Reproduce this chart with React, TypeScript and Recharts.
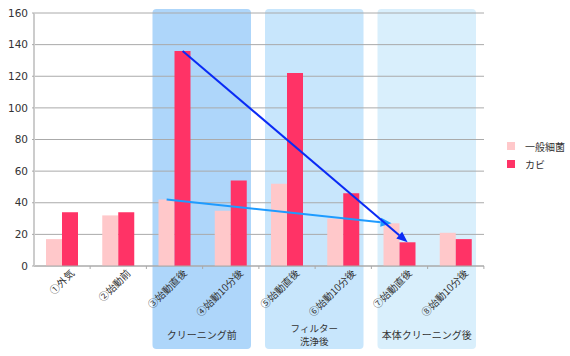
import { BarChart, Bar, XAxis, YAxis, CartesianGrid, ReferenceArea, ReferenceLine, Legend } from 'recharts'

const categories = ['①外気', '②始動前', '③始動直後', '④始動10分後', '⑤始動直後', '⑥始動10分後', '⑦始動直後', '⑧始動10分後']
const bacteria = [17, 32, 42, 35, 52, 30, 27, 21]
const mold = [34, 34, 136, 54, 122, 46, 15, 17]
const yTicks = [0, 20, 40, 60, 80, 100, 120, 140, 160]

const seriesNames = ['一般細菌', 'カビ']
const seriesColors = ['#FFC8CA', '#FF3366']

// groups behind the bars
const groupLabels = [['クリーニング前'], ['フィルター', '洗浄後'], ['本体クリーニング後']]
const groupStart = [2, 4, 6]
const groupEnd = [3, 5, 7]
const groupColors = ['#AED6FA', '#C8E6FC', '#D9EFFC']

// arrows: from / to category index
const arrowFrom = 2
const arrowTo = 6

const JP = '"Noto Sans CJK JP", "Noto Sans", sans-serif'

const data = categories.map((name, i) => ({ name, bacteria: bacteria[i], mold: mold[i] }))

function bandShape(idx: number) {
    return (props: any) => {
        const { x, y, width, height } = props
        const left = x + 6
        const w = width - 14
        const top = y - 4
        const bottom = y + height + 83
        const lines = groupLabels[idx]
        return (
            <g>
                <rect x={left} y={top} width={w} height={bottom - top} rx={4} fill={groupColors[idx]} />
                {lines.map((t, i) => (
                    <text
                        key={t}
                        x={left + w / 2}
                        y={lines.length > 1 ? bottom - 4 - (lines.length - 1 - i) * 13 : bottom - 10}
                        textAnchor="middle"
                        fontSize={lines.length > 1 ? 9.5 : 10}
                        fontFamily={JP}
                        fill="#333"
                    >
                        {t}
                    </text>
                ))}
            </g>
        )
    }
}

function arrowShape(color: string, shift: number) {
    return (props: any) => {
        const x1 = props.x1 + shift
        const x2 = props.x2 + shift
        const { y1, y2 } = props
        const a = Math.atan2(y2 - y1, x2 - x1)
        const len = 11
        const half = 4.5
        const bx = x2 - len * Math.cos(a)
        const by = y2 - len * Math.sin(a)
        const pts = [
            [x2, y2],
            [bx + half * Math.sin(a), by - half * Math.cos(a)],
            [bx - half * Math.sin(a), by + half * Math.cos(a)]
        ].map((p) => p.join(',')).join(' ')
        return (
            <g>
                <line x1={x1} y1={y1} x2={bx} y2={by} stroke={color} strokeWidth={2} />
                <polygon points={pts} fill={color} />
            </g>
        )
    }
}

const XTick = (props: any) => {
    const { x, y, payload } = props
    return (
        <g>
            <line x1={x + 28} x2={x + 28} y1={y} y2={y + 3} stroke="#aaa" />
            <text
                transform={`translate(${x + 13},${y + 8}) rotate(-45)`}
                textAnchor="end"
                fontSize={10}
                fontFamily={JP}
                fill="#333"
            >
                {payload.value}
            </text>
        </g>
    )
}

const LegendBox = () => (
    <div style={{ fontFamily: JP, fontSize: 10, color: '#333' }}>
        {seriesNames.map((n, i) => (
            <div key={n} style={{ display: 'flex', alignItems: 'center', height: 18 }}>
                <span style={{ width: 8, height: 8, background: seriesColors[i], marginLeft: 2, marginRight: 10 }} />
                <span>{n}</span>
            </div>
        ))}
    </div>
)

export default function App() {
    return (
        <div style={{ position: 'absolute', left: 0, top: 0, width: 570, height: 356, background: '#fff' }}>
            <BarChart
                width={570}
                height={356}
                data={data}
                margin={{ top: 13, right: 86, bottom: 0, left: 0 }}
                barGap={0}
            >
                {groupStart.map((s, i) => (
                    <ReferenceArea
                        key={i}
                        x1={categories[s]}
                        x2={categories[groupEnd[i]]}
                        y1={0}
                        y2={160}
                        ifOverflow="visible"
                        shape={bandShape(i)}
                        zIndex={-200}
                    />
                ))}
                <CartesianGrid vertical={false} stroke="#aaa" />
                <XAxis
                    dataKey="name"
                    interval={0}
                    height={90}
                    tickSize={0}
                    tickMargin={0}
                    tickLine={false}
                    axisLine={{ stroke: '#aaa' }}
                    tick={<XTick />}
                />
                <YAxis
                    width={34}
                    domain={[0, 160]}
                    ticks={yTicks}
                    interval={0}
                    tickSize={2}
                    tickMargin={4}
                    axisLine={{ stroke: '#ccc', strokeWidth: 2 }}
                    tickLine={{ stroke: '#aaa' }}
                    tick={{ fontSize: 10.5, fill: '#333', fontFamily: '"DejaVu Sans", sans-serif' }}
                />
                <Bar dataKey="bacteria" name={seriesNames[0]} fill={seriesColors[0]} barSize={16} isAnimationActive={false} />
                <Bar dataKey="mold" name={seriesNames[1]} fill={seriesColors[1]} barSize={16} isAnimationActive={false} />
                <ReferenceLine
                    segment={[{ x: categories[arrowFrom], y: bacteria[arrowFrom] }, { x: categories[arrowTo], y: bacteria[arrowTo] }]}
                    ifOverflow="visible"
                    shape={arrowShape('#1E9BFF', -8)}
                    zIndex={1000}
                />
                <ReferenceLine
                    segment={[{ x: categories[arrowFrom], y: mold[arrowFrom] }, { x: categories[arrowTo], y: mold[arrowTo] }]}
                    ifOverflow="visible"
                    shape={arrowShape('#0A2BF5', 8)}
                    zIndex={1000}
                />
                <Legend
                    layout="horizontal"
                    align="center"
                    verticalAlign="middle"
                    wrapperStyle={{ left: 505, top: 137, width: 65 }}
                    content={<LegendBox />}
                />
            </BarChart>
        </div>
    )
}
